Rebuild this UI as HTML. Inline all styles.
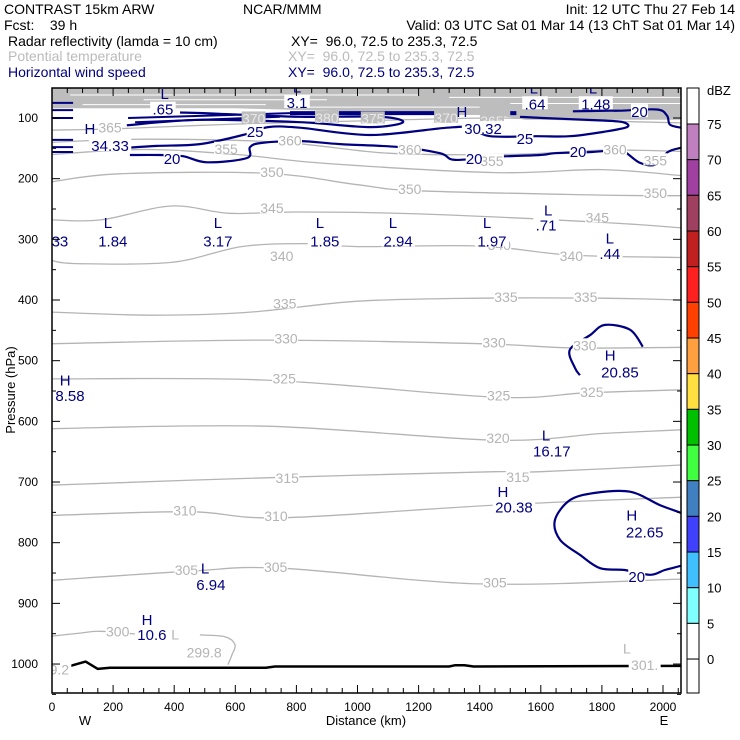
<!DOCTYPE html>
<html><head><meta charset="utf-8">
<style>
html,body{margin:0;padding:0;background:#fff;}
svg{display:block;font-family:"Liberation Sans",sans-serif;}
</style></head>
<body>
<svg id="chart" width="740" height="740" viewBox="0 0 740 740" xmlns="http://www.w3.org/2000/svg">
<g font-size="14">
<text x="4" y="14" fill="#000">CONTRAST 15km ARW</text>
<text x="243" y="14" fill="#000">NCAR/MMM</text>
<text x="735" y="14" text-anchor="end" fill="#000">Init: 12 UTC Thu 27 Feb 14</text>
<text x="4" y="30" fill="#000" xml:space="preserve">Fcst:    39 h</text>
<text x="735" y="30" text-anchor="end" fill="#000">Valid: 03 UTC Sat 01 Mar 14 (13 ChT Sat 01 Mar 14)</text>
<text x="8" y="46" fill="#000">Radar reflectivity (lamda = 10 cm)</text>
<text x="291" y="46" fill="#000" xml:space="preserve">XY=  96.0, 72.5 to 235.3, 72.5</text>
<text x="8" y="61" fill="#bbb">Potential temperature</text>
<text x="288" y="61" fill="#bbb" xml:space="preserve">XY=  96.0, 72.5 to 235.3, 72.5</text>
<text x="8" y="77" fill="#000080">Horizontal wind speed</text>
<text x="288" y="77" fill="#000080" xml:space="preserve">XY=  96.0, 72.5 to 235.3, 72.5</text>
</g>
<g id="plot"></g>
</svg>
<script>
// ---- data ----
const xTicksKm = [0,200,400,600,800,1000,1200,1400,1600,1800,2000];
const yTicksHpa = [100,200,300,400,500,600,700,800,900,1000];
const dbzLevels = [75,70,65,60,55,50,45,40,35,30,25,20,15,10,5,0];
const dbzColors = ["#c080c0","#a040a0","#a04060","#c02020","#ff2020","#ff4000","#ffa040","#ffe040","#00c000","#40ff40","#4080c0","#4040ff","#40c0ff","#80ffff","#ffffff"];
const missingD = [0,600,900,1300,1450,1550,2060];
const missingP = [84,84,88,95,95,103,103];
const surfaceD = [0,40,110,150,190,700,730,1300,1320,1350,1380,2060];
const surfaceP = [1008,1006,996,1008,1006,1006,1004,1004,1002,1002,1004,1003];
const thetaLevels = [365,360,355,350,345,340,335,330,325,320,315,310,305,300];
const thetaD = [
 [0,200,600,1000,1450,1800,2060],
 [0,300,750,1100,1500,1800,2060],
 [0,300,600,900,1450,1800,2060],
 [0,220,700,1000,1200,1800,2060],
 [0,160,390,580,800,1200,1800,2060],
 [0,80,390,620,830,1000,1400,1700,2060],
 [0,330,650,1000,1400,1800,2060],
 [0,700,1400,1700,2060],
 [0,700,1450,1750,2060],
 [0,700,1450,1800,2060],
 [0,700,1450,1600,2060],
 [0,450,750,1450,2060],
 [0,450,750,1400,2060],
 [0,92,157,288]
];
const thetaP = [
 [120,118,110,105,100,105,108],
 [140,135,140,158,160,153,155],
 [160,152,160,175,190,185,195],
 [205,192,191,210,220,227,228],
 [268,268,245,257,255,258,272,281],
 [335,340,338,312,307,312,311,326,330],
 [420,425,420,402,397,397,400],
 [472,466,472,479,478],
 [530,532,560,553,548],
 [612,608,631,620,614],
 [705,693,683,683,672],
 [755,749,759,738,725],
 [862,847,842,868,860],
 [954,949,946,951]
];
const theta300bD = [484,566,599,589,576];
const theta300bP = [952,955,968,985,1001];
const windLevels = [20,25,30,20,20,20];
const windD = [
 [255,353,429,507,638,648,687,812,943,1139,1270,1319,1450,1597,1646,1767,1843,1875,1925,1974,2016,2060],
 [249,344,484,625,707,812,1041,1293,1368,1434,1587,1695,1803,1882,1869,1794,1607,1532],
 [245,484,812,1041,1149,1074,812,550,419],
 [1705,1826,1859,1980,2013,2023,2060],
 [1934,1892,1810,1761,1695,1712,1728],
 [2060,1990,1892,1777,1695,1646,1663,1728,1794,1875,1957,2006,2060]
];
const windP = [
 [161,161,163,173,166,148,141,138,143,148,158,169,164,161,158,156,153,156,174,177,156,149],
 [149,146,143,128,115,116,128,116,116,130,130,130,123,115,107,104,100,98],
 [112,103,107,115,107,98,98,93,91],
 [89,88,88,86,96,111,116],
 [477,449,441,458,482,512,524],
 [751,738,716,718,730,763,795,820,842,845,853,845,838]
];
const jetD = [[779,1319],[249,779],[272,746],[0,69],[0,69],[0,69],[0,69],[0,69],[0,69],[1500,1520]];
const jetP = [[92,92],[100,92],[107,98],[75,75],[87,87],[100,100],[136,136],[148,148],[156,156],[92,92]];
const jetW = [4,2,2,2,2,2,2,2,2,4];
const windLabelText = ["L",".65","L","3.1","H","30.32","L",".64","L","1.48","20","H","34.33","25","25","20","20","20",
 "L","1.84","L","3.17","L","1.85","L","2.94","L","1.97","L",".71","L",".44","33",
 "H","8.58","H","20.85","L","16.17","H","20.38","H","22.65","L","6.94","H","10.6","20"];
const windLabelD = [369,363,802,802,1342,1411,1577,1581,1771,1780,1923,124,190,665,1548,393,1382,1722,
 183,199,543,543,877,893,1116,1133,1424,1440,1624,1617,1826,1826,26,
 43,59,1827,1859,1617,1636,1476,1512,1898,1940,501,520,311,327,1914];
const windLabelP = [62,88,51,77,92,120,53,79,53,79,92,120,148,125,136,169,169,158,
 275,305,275,305,275,305,275,305,275,305,254,279,300,326,305,
 534,560,493,521,625,651,718,744,757,785,844,871,929,954,858];
const thetaLabelText = ["365","360","360","360","365","355","355","355","350","350","350","345","345","340","340","340",
 "335","335","335","330","330","330","325","325","325","320","315","315","310","310","305","305","305","300","299.8","L","L","301.","9.2","370","380","375","370","365"];
const thetaLabelD = [190,779,1171,1843,1440,570,1440,1975,720,1171,1975,720,1785,752,1464,1700,
 762,1486,1747,766,1447,1744,760,1462,1767,1460,770,1525,435,733,440,732,1450,215,498,403,1882,1940,24,660,900,1050,1290,1440];
const thetaLabelP = [119,140,155,155,118,154,174,173,192,220,227,252,267,331,313,331,
 409,398,398,467,473,478,533,561,555,631,697,695,750,759,848,843,869,950,984,955,978,1005,1012,104,103,104,103,108];

// ---- scales ----
const X0=52, XS=0.3055, Y100=118, YS=0.6067;
const xs = d => X0 + d*XS;
const ys = p => Y100 + (p-100)*YS;
const NS="http://www.w3.org/2000/svg";
const plot=document.getElementById('plot');
function mk(tag,attrs,parent){const e=document.createElementNS(NS,tag);for(const k in attrs)e.setAttribute(k,attrs[k]);(parent||plot).appendChild(e);return e;}
function smooth(ds,ps){
  const pts=ds.map((d,i)=>[xs(d),ys(ps[i])]);
  let s="M"+pts[0][0].toFixed(1)+","+pts[0][1].toFixed(1);
  for(let i=0;i<pts.length-1;i++){
    const p0=pts[Math.max(0,i-1)],p1=pts[i],p2=pts[i+1],p3=pts[Math.min(pts.length-1,i+2)];
    const c1=[p1[0]+(p2[0]-p0[0])/6,p1[1]+(p2[1]-p0[1])/6];
    const c2=[p2[0]-(p3[0]-p1[0])/6,p2[1]-(p3[1]-p1[1])/6];
    s+=" C"+c1[0].toFixed(1)+","+c1[1].toFixed(1)+" "+c2[0].toFixed(1)+","+c2[1].toFixed(1)+" "+p2[0].toFixed(1)+","+p2[1].toFixed(1);
  }
  return s;
}
function linear(ds,ps){
  return ds.map((d,i)=>(i?"L":"M")+xs(d).toFixed(1)+","+ys(ps[i]).toFixed(1)).join(" ");
}
const defs=mk('defs',{});
const cp=mk('clipPath',{id:'clip'},defs);
mk('rect',{x:52,y:88,width:629,height:605},cp);
const inner=mk('g',{'clip-path':'url(#clip)'});



let gp="M"+xs(0)+","+ys(40);
missingD.forEach((d,i)=>{gp+=" L"+xs(d).toFixed(1)+","+ys(missingP[i]).toFixed(1);});
gp+=" L"+xs(2100)+","+ys(40)+" Z";
const gray=mk('path',{d:gp,fill:'#bdbdbd'},inner);


[[60,1200,62],[300,900,70],[100,700,78],[800,1400,82],[1300,2060,66],[1500,2060,76]].forEach(r=>{
  const l=mk('line',{x1:xs(r[0]),x2:xs(r[1]),y1:ys(r[2]),y2:ys(r[2]),stroke:'#fff','stroke-width':1},inner);
  
  
});

thetaLevels.forEach((lv,i)=>{
  const c=mk('path',{d:smooth(thetaD[i],thetaP[i]),fill:'none',stroke:'#b4b4b4','stroke-width':1.3},inner);
  
  
});
const t3=mk('path',{d:smooth(theta300bD,theta300bP),fill:'none',stroke:'#b4b4b4','stroke-width':1.3},inner);



const sf=mk('path',{d:linear(surfaceD,surfaceP),fill:'none',stroke:'#000','stroke-width':2.5,'stroke-linejoin':'round'},inner);



windLevels.forEach((lv,i)=>{
  const c=mk('path',{d:smooth(windD[i],windP[i]),fill:'none',stroke:'#000080','stroke-width':2.2},inner);
  
  
});
jetD.forEach((d,i)=>{
  const l=mk('line',{x1:xs(d[0]),x2:xs(d[1]),y1:ys(jetP[i][0]),y2:ys(jetP[i][1]),stroke:'#000080','stroke-width':jetW[i]},inner);
  
  
});

thetaLabelText.forEach((t,i)=>{
  const x=xs(thetaLabelD[i]), y=ys(thetaLabelP[i]);
  const w=t.length*8;
  const bg=mk('rect',{x:x-w/2,y:y-9,width:w,height:12,fill:(thetaLabelP[i]<110?'#bdbdbd':'#fff')},inner);
  
  
  const tx=mk('text',{x:x,y:y+3,'text-anchor':'middle','font-size':14,fill:(thetaLabelP[i]<110?'#e8e8e8':'#b4b4b4')},inner);
  tx.textContent=t;
  
  
});
windLabelText.forEach((t,i)=>{
  const x=xs(windLabelD[i]), y=ys(windLabelP[i]);
  if(/^[0-9.]+$/.test(t)){
    const w=t.length*8.5;
    const bg=mk('rect',{x:x-w/2,y:y-9,width:w,height:13,fill:'#fff'},inner);
    
    
  }
  const tx=mk('text',{x:x,y:y+4,'text-anchor':'middle','font-size':15,fill:'#000080'},inner);
  tx.textContent=t;
  
  
});

const fr=mk('rect',{x:52,y:88,width:629,height:605,fill:'none',stroke:'#000','stroke-width':1.5});


for(let d=0;d<=2050;d+=50){
  const len=(d%200===0)?8:5;
  const a=mk('line',{x1:xs(d),x2:xs(d),y1:88,y2:88+len,stroke:'#000'});
  
  
  const b=mk('line',{x1:xs(d),x2:xs(d),y1:693,y2:693-len,stroke:'#000'});
  
  
}
xTicksKm.forEach(d=>{
  const t=mk('text',{x:xs(d),y:711,'text-anchor':'middle','font-size':12,fill:'#000'});
  t.textContent=d;
  
  
});
for(let p=100;p<=1050;p+=50){
  const len=(p%100===0)?8:4;
  const a=mk('line',{x1:52,x2:52+len,y1:ys(p),y2:ys(p),stroke:'#000'});
  
  
  const b=mk('line',{x1:681,x2:681-len,y1:ys(p),y2:ys(p),stroke:'#000'});
  
  
}
yTicksHpa.forEach(p=>{
  const t=mk('text',{x:38,y:ys(p)+4,'text-anchor':'end','font-size':12,fill:'#000'});
  t.textContent=p;
  
  
});
const xt=mk('text',{x:366,y:725,'text-anchor':'middle','font-size':13,fill:'#000'});
xt.textContent='Distance (km)';


const wl=mk('text',{x:85,y:725,'text-anchor':'middle','font-size':13,fill:'#000'});
wl.textContent='W';


const el=mk('text',{x:664,y:725,'text-anchor':'middle','font-size':13,fill:'#000'});
el.textContent='E';


const yt=mk('text',{x:0,y:0,'text-anchor':'middle','font-size':13,fill:'#000',transform:'translate(15,390) rotate(-90)'});
yt.textContent='Pressure (hPa)';



const CB_X=687, CB_W=12, CB_TOP=124, CB_STEP=35.67;
dbzColors.forEach((c,i)=>{
  const r=mk('rect',{x:CB_X,y:CB_TOP+i*CB_STEP,width:CB_W,height:CB_STEP,fill:c,stroke:'#000','stroke-width':1});
  
  
});
const cbt=mk('rect',{x:CB_X,y:88,width:CB_W,height:CB_TOP-88,fill:'#fff',stroke:'#000'});


const cbb=mk('rect',{x:CB_X,y:CB_TOP+15*CB_STEP,width:CB_W,height:693-(CB_TOP+15*CB_STEP),fill:'#fff',stroke:'#000'});


dbzLevels.forEach((v,i)=>{
  const t=mk('text',{x:707,y:CB_TOP+i*CB_STEP+5,'font-size':13,fill:'#000'});
  t.textContent=v;
  
  
});
const un=mk('text',{x:707,y:95,'font-size':13,fill:'#000'});
un.textContent='dBZ';


</script>
</body></html>
